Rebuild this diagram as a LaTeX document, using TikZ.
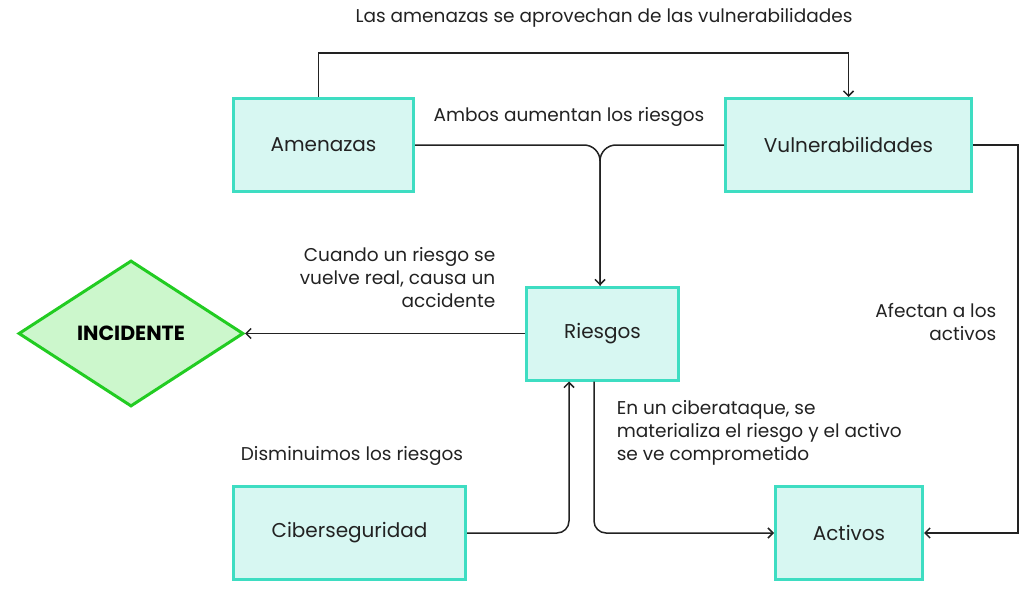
\documentclass[tikz,border=0pt]{standalone}
\usepackage{fontspec}
\setmainfont{Poppins}
\usetikzlibrary{arrows.meta,shapes.geometric}
\definecolor{boxline}{HTML}{3EDDC2}
\definecolor{boxfill}{HTML}{D7F7F2}
\definecolor{incline}{HTML}{22CC22}
\definecolor{incfill}{HTML}{CCF7CC}
\definecolor{ink}{HTML}{222222}
\begin{document}
\begin{tikzpicture}[x=1pt,y=-1pt,->,>={Straight Barb[length=5pt,width=10pt]},line width=1.5pt,draw=ink,
    bloque/.style={rectangle,draw=boxline,fill=boxfill,line width=3pt,minimum height=93pt,font=\fontsize{20}{24}\selectfont,text=ink},
    nota/.style={font=\fontsize{18.5}{23}\selectfont,text=ink,inner sep=0pt}]
                \useasboundingbox (0,0) rectangle (1032,599);
                \node[bloque,minimum width=180pt](Amenazas)at(323.5, 145){Amenazas};
                \node[bloque,minimum width=246pt](Vulnerabilidades)at(848.5, 145){Vulnerabilidades};
                \node[bloque,minimum width=152pt](Riesgos)at(602.5, 333.5){Riesgos};
                \node[bloque,minimum width=232pt](Ciberseguridad)at(349.5, 533){Ciberseguridad};
                \node[bloque,minimum width=147pt](Activos)at(849, 533){Activos};
                \node[diamond,draw=incline,fill=incfill,line width=3pt,minimum width=225pt,minimum height=146pt,
                    font=\fontsize{20.5}{24}\selectfont\bfseries,text=black](Incidente)at(131, 333.5){INCIDENTE};
                \coordinate(arriba)at(600, 53);
                \coordinate(derecha)at(1018, 145);
                % textos de las flechas
                \node[nota](n1)at(604, 18){Las amenazas se aprovechan de las vulnerabilidades};
                \node[nota](n2)at(569, 117){Ambos aumentan los riesgos};
                \node[nota,align=right,anchor=east](n3)at(496, 278){Cuando un riesgo se\\vuelve real, causa un\\accidente};
                \node[nota,align=right,anchor=east](n4)at(997, 322){Afectan a los\\activos};
                \node[nota,align=left,anchor=west](n5)at(616, 433){En un ciberataque, se\\materializa el riesgo y el activo\\se ve comprometido};
                \node[nota](n6)at(352, 456){Disminuimos los riesgos};
                % conectores
                \draw ([xshift=-5pt]Amenazas.north) |- (arriba) -| (Vulnerabilidades.north);
                \draw[rounded corners=16pt] (Amenazas.east) -| ([xshift=-2.5pt]Riesgos.north);
                \draw[-,rounded corners=16pt] (Vulnerabilidades.west) -| ([xshift=-2.5pt]Riesgos.north);
                \draw (Vulnerabilidades.east) -- (derecha) |- (Activos.east);
                \draw (Riesgos.west) -- (Incidente.east);
                \draw[rounded corners=12pt] (Ciberseguridad.east) -| ([xshift=-33.5pt]Riesgos.south);
                \draw[rounded corners=12pt] ([xshift=-8.5pt]Riesgos.south) |- (Activos.west);
            \end{tikzpicture}
\end{document}
